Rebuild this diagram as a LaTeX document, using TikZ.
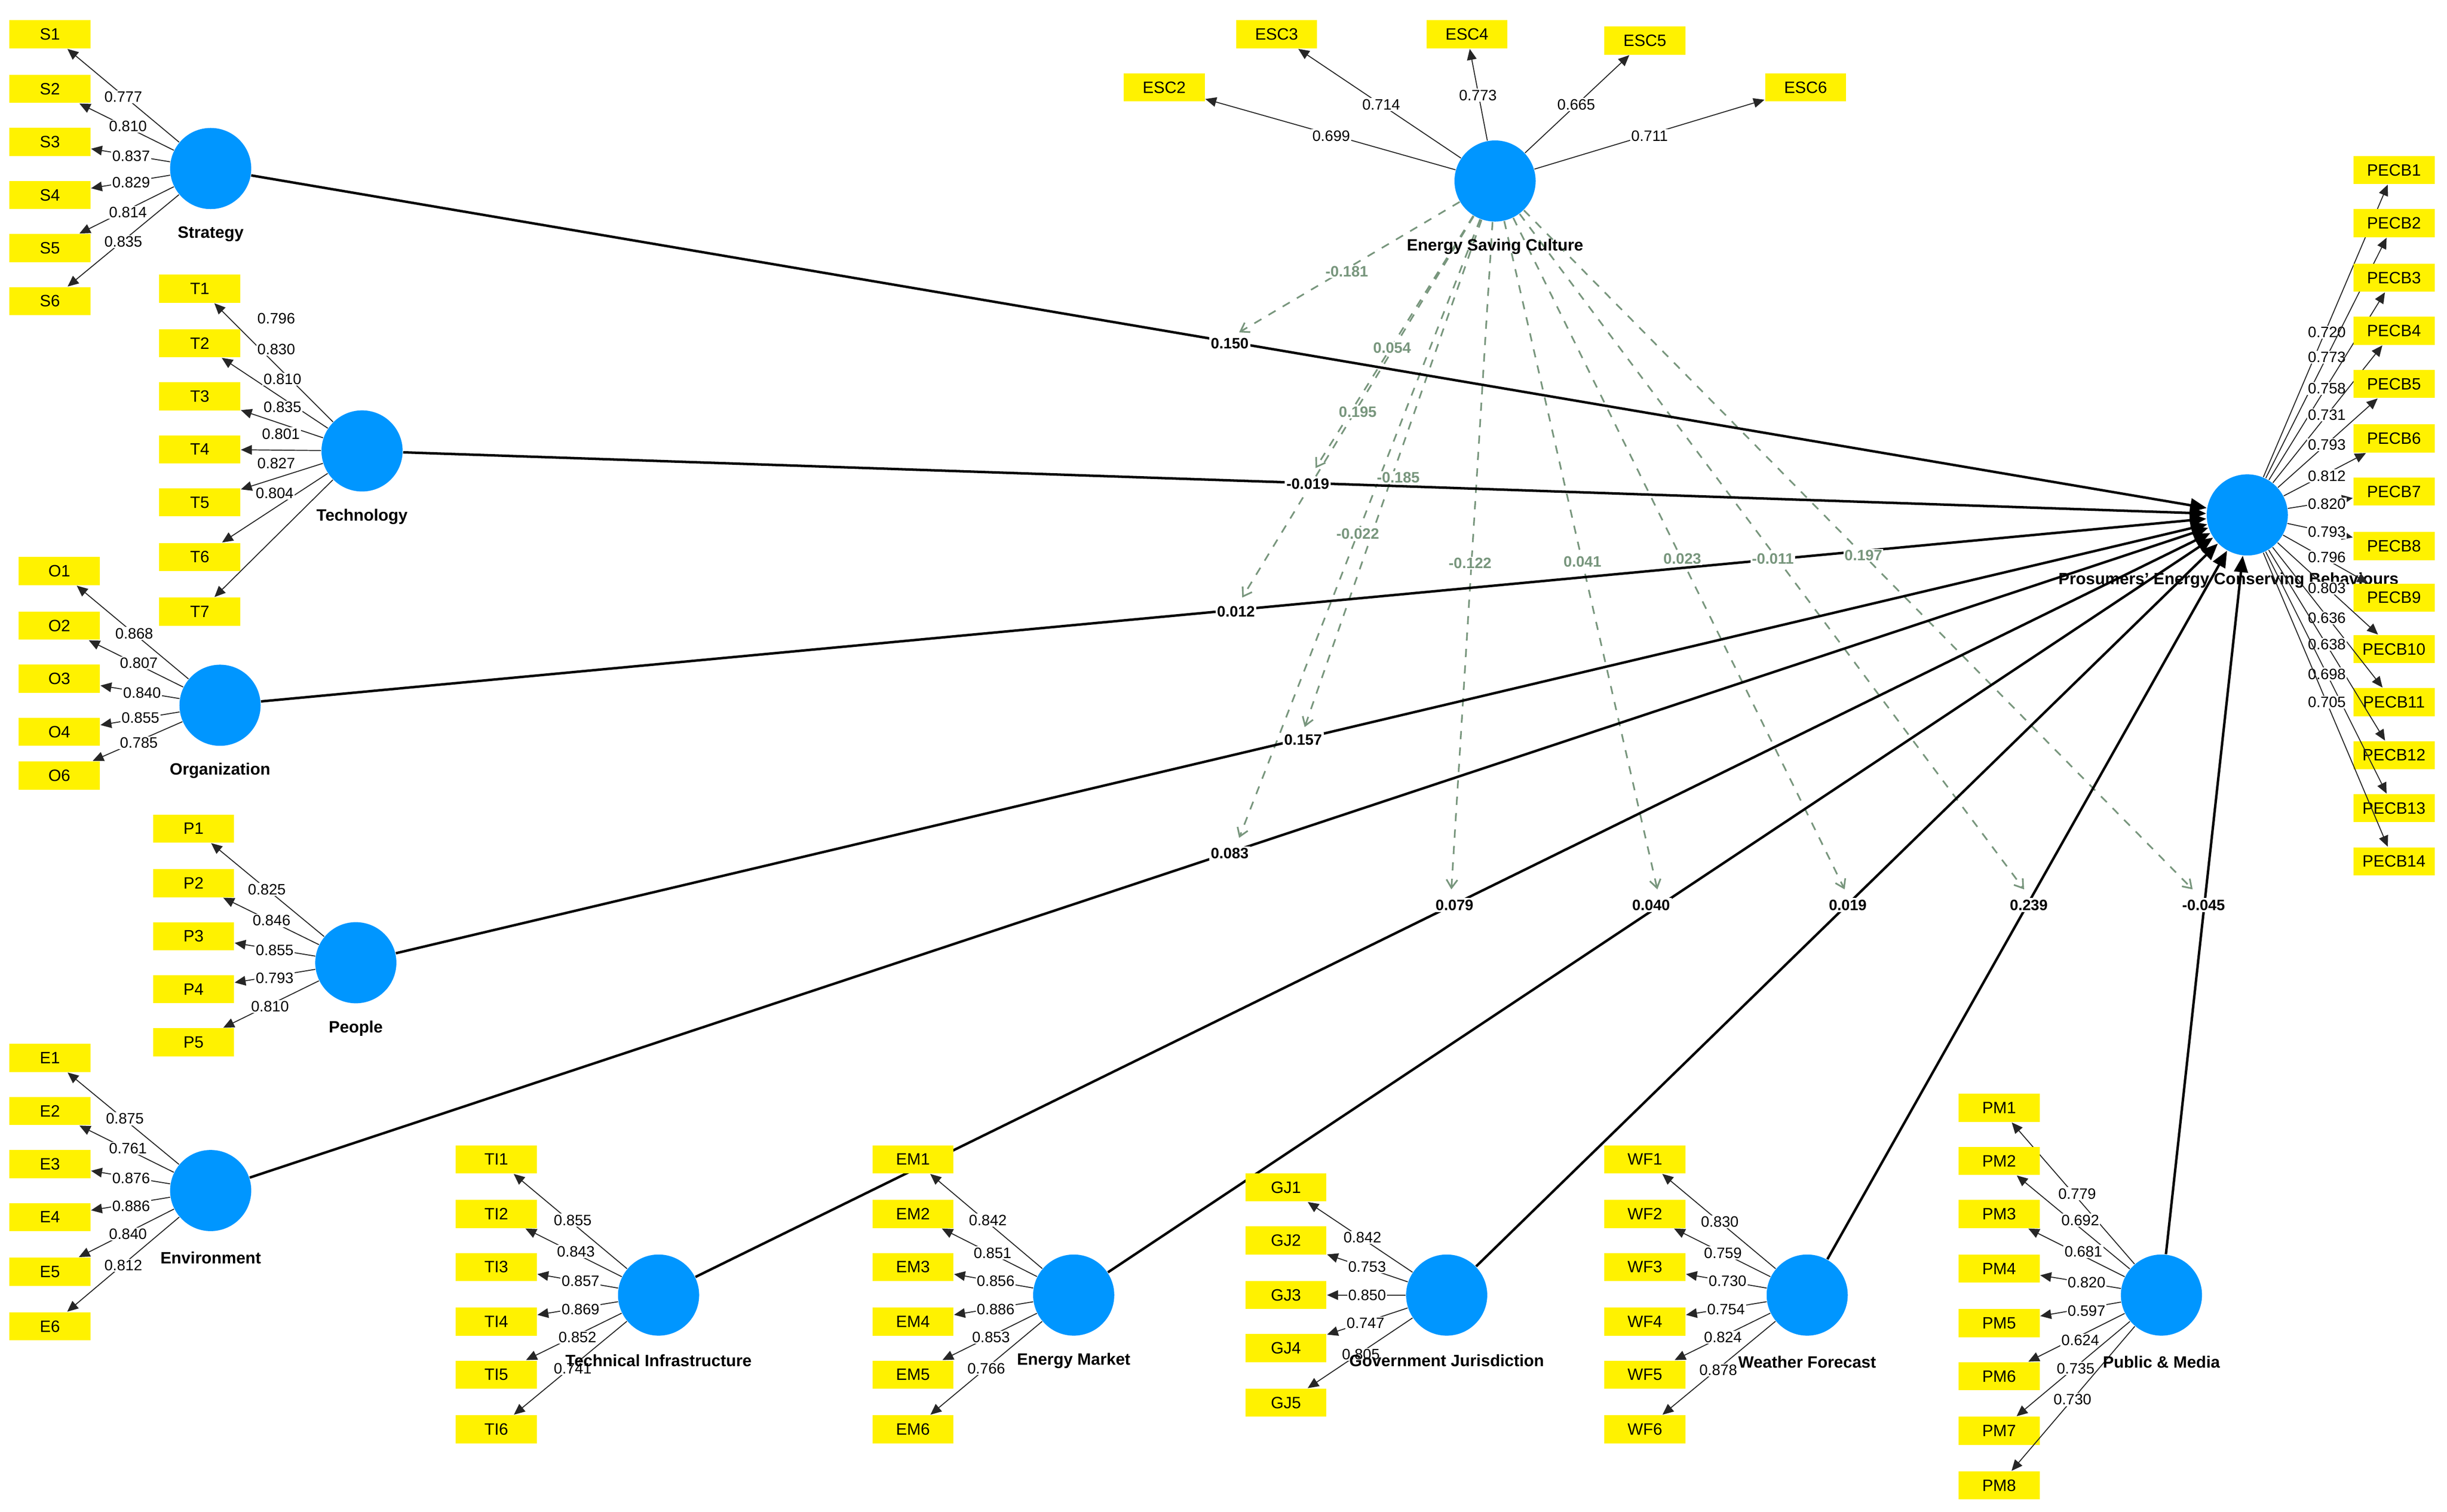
\documentclass[tikz,border=0pt]{standalone}
\usepackage{fontspec}
\setmainfont{Liberation Sans}
\usetikzlibrary{arrows.meta}
\definecolor{cBlue}{RGB}{0,150,255}
\definecolor{cGreen}{RGB}{120,150,125}
\begin{document}
\begin{tikzpicture}[x=0.02cm,y=-0.02cm,
 lv/.style={circle,fill=cBlue,minimum size=1.04cm,inner sep=0},
 ind/.style={rectangle,fill=yellow,minimum width=1.04cm,minimum height=0.36cm,inner sep=0,font=\fontsize{6}{7}\selectfont},
 ld/.style={draw=black!85,line width=0.35pt,-{Triangle[length=4pt,width=3.5pt]}},
 lw/.style={fill=white,inner sep=0.4pt,font=\fontsize{5.5}{6}\selectfont},
 pth/.style={line width=0.9pt,-{Triangle[length=6pt,width=5pt]}},
 pw/.style={fill=white,inner sep=0.6pt,font=\bfseries\fontsize{5.5}{6}\selectfont},
 md/.style={draw=cGreen,dashed,line width=0.6pt,-{Straight Barb[length=3pt,width=4pt]}},
 mw/.style={fill=white,inner sep=0.4pt,text=cGreen,font=\bfseries\fontsize{5.5}{6}\selectfont},
 cl/.style={font=\bfseries\fontsize{6}{7}\selectfont}]
\useasboundingbox (0,0) rectangle (1568,969);
\fill[white] (0,0) rectangle (1568,969);
% constructs
\node[lv] (STR) at (135,108) {};
\node[lv] (TEC) at (232,289) {};
\node[lv] (ORG) at (141,452) {};
\node[lv] (PEO) at (228,617) {};
\node[lv] (ENV) at (135,763) {};
\node[lv] (TI) at (422,830) {};
\node[lv] (EM) at (688,830) {};
\node[lv] (GJ) at (927,830) {};
\node[lv] (WF) at (1158,830) {};
\node[lv] (PM) at (1385,830) {};
\node[lv] (ESC) at (958,116) {};
\node[lv] (PECB) at (1440,330) {};
\node[cl] (lPECB) at (1428,372) {Prosumers' Energy Conserving Behaviours};
% moderating dashed paths
\foreach \i/\x/\y in {1/794/213,2/843/300,3/796/383,4/836/466,5/794/537,6/930/570,7/1062/570,8/1182/570,9/1297/570,10/1405/570}{
 \coordinate (m\i) at (\x,\y);
 \draw[md] (ESC) -- (m\i);
}
% structural paths
\foreach \s in {STR,TEC,ORG,PEO,ENV,TI,EM,GJ,WF,PM}{\draw[pth] (\s) -- (PECB);}
\node[pw] (p1) at (788,220) {0.150};
\node[pw] (p2) at (838,310) {-0.019};
\node[pw] (p3) at (792,392) {0.012};
\node[pw] (p4) at (835,474) {0.157};
\node[pw] (p5) at (788,547) {0.083};
\node[pw] (p6) at (932,580) {0.079};
\node[pw] (p7) at (1058,580) {0.040};
\node[pw] (p8) at (1184,580) {0.019};
\node[pw] (p9) at (1300,580) {0.239};
\node[pw] (p10) at (1412,580) {-0.045};
\foreach \v/\x/\y in {-0.181/863/174,0.054/892/223,0.195/870/264,-0.185/896/306,-0.022/870/342,-0.122/942/361,0.041/1014/360,0.023/1078/358,-0.011/1136/358,0.197/1194/356}{
 \node[mw] at (\x,\y) {\v};
}
% measurement models
\foreach \n/\y/\v/\lx/\ly in {S1/22/0.777/79/62,S2/57/0.810/82/81,S3/91/0.837/84/100,S4/125/0.829/84/117,S5/159/0.814/82/136,S6/193/0.835/79/155}{
 \node[ind] (\n) at (32,\y) {\n}; \draw[ld] (STR) -- (\n); \node[lw] at (\lx,\ly) {\v};}
\foreach \n/\y/\v/\lx/\ly in {T1/185/0.796/177/204,T2/220/0.830/177/224,T3/254/0.810/181/243,T4/288/0.835/181/261,T5/322/0.801/180/278,T6/357/0.827/177/297,T7/392/0.804/176/316}{
 \node[ind] (\n) at (128,\y) {\n}; \draw[ld] (TEC) -- (\n); \node[lw] at (\lx,\ly) {\v};}
\foreach \n/\y/\v/\lx/\ly in {O1/366/0.868/86/406,O2/401/0.807/89/425,O3/435/0.840/91/444,O4/469/0.855/90/460,O6/497/0.785/89/476}{
 \node[ind] (\n) at (38,\y) {\n}; \draw[ld] (ORG) -- (\n); \node[lw] at (\lx,\ly) {\v};}
\foreach \n/\y/\v/\lx/\ly in {P1/531/0.825/171/570,P2/566/0.846/174/590,P3/600/0.855/176/609,P4/634/0.793/176/627,P5/668/0.810/173/645}{
 \node[ind] (\n) at (124,\y) {\n}; \draw[ld] (PEO) -- (\n); \node[lw] at (\lx,\ly) {\v};}
\foreach \n/\y/\v/\lx/\ly in {E1/678/0.875/80/717,E2/712/0.761/82/736,E3/746/0.876/84/755,E4/780/0.886/84/773,E5/815/0.840/82/791,E6/850/0.812/79/811}{
 \node[ind] (\n) at (32,\y) {\n}; \draw[ld] (ENV) -- (\n); \node[lw] at (\lx,\ly) {\v};}
\foreach \n/\y/\v/\lx/\ly in {TI1/743/0.855/367/782,TI2/778/0.843/369/802,TI3/812/0.857/372/821,TI4/847/0.869/372/839,TI5/881/0.852/370/857,TI6/916/0.741/367/877}{
 \node[ind] (\n) at (318,\y) {\n}; \draw[ld] (TI) -- (\n); \node[lw] at (\lx,\ly) {\v};}
\foreach \n/\y/\v/\lx/\ly in {EM1/743/0.842/633/782,EM2/778/0.851/636/803,EM3/812/0.856/638/821,EM4/847/0.886/638/839,EM5/881/0.853/635/857,EM6/916/0.766/632/877}{
 \node[ind] (\n) at (585,\y) {\n}; \draw[ld] (EM) -- (\n); \node[lw] at (\lx,\ly) {\v};}
\foreach \n/\y/\v/\lx/\ly in {GJ1/761/0.842/873/793,GJ2/795/0.753/876/812,GJ3/830/0.850/876/830,GJ4/864/0.747/875/848,GJ5/899/0.805/872/868}{
 \node[ind] (\n) at (824,\y) {\n}; \draw[ld] (GJ) -- (\n); \node[lw] at (\lx,\ly) {\v};}
\foreach \n/\y/\v/\lx/\ly in {WF1/743/0.830/1102/783,WF2/778/0.759/1104/803,WF3/812/0.730/1107/821,WF4/847/0.754/1106/839,WF5/881/0.824/1104/857,WF6/916/0.878/1101/878}{
 \node[ind] (\n) at (1054,\y) {\n}; \draw[ld] (WF) -- (\n); \node[lw] at (\lx,\ly) {\v};}
\foreach \n/\y/\v/\lx/\ly in {PM1/710/0.779/1331/765,PM2/744/0.692/1333/782,PM3/778/0.681/1335/802,PM4/813/0.820/1337/822,PM5/848/0.597/1337/840,PM6/882/0.624/1333/859,PM7/917/0.735/1330/877,PM8/952/0.730/1328/897}{
 \node[ind] (\n) at (1281,\y) {\n}; \draw[ld] (PM) -- (\n); \node[lw] at (\lx,\ly) {\v};}
\foreach \n/\x/\y/\v/\lx/\ly in {ESC2/746/56/0.699/853/87,ESC3/818/22/0.714/885/67,ESC4/940/22/0.773/947/61,ESC5/1054/26/0.665/1010/67,ESC6/1157/56/0.711/1057/87}{
 \node[ind] (\n) at (\x,\y) {\n}; \draw[ld] (ESC) -- (\n); \node[lw] at (\lx,\ly) {\v};}
\foreach \n/\y/\v/\ly in {PECB1/109/0.720/213,PECB2/143/0.773/229,PECB3/178/0.758/249,PECB4/212/0.731/266,PECB5/246/0.793/285,PECB6/281/0.812/305,PECB7/315/0.820/323,PECB8/350/0.793/341,PECB9/383/0.796/357,PECB10/416/0.803/377,PECB11/450/0.636/396,PECB12/484/0.638/413,PECB13/518/0.698/432,PECB14/552/0.705/450}{
 \node[ind] (\n) at (1534,\y) {\n}; \draw[ld] (PECB) -- (\n); \node[lw] at (1491,\ly) {\v};}
% construct labels
\node[cl] (lSTR) at (135,150) {Strategy};
\node[cl] (lTEC) at (232,331) {Technology};
\node[cl] (lORG) at (141,494) {Organization};
\node[cl] (lPEO) at (228,659) {People};
\node[cl] (lENV) at (135,806) {Environment};
\node[cl] (lTI) at (422,872) {Technical Infrastructure};
\node[cl] (lEM) at (688,872) {Energy Market};
\node[cl] (lGJ) at (927,872) {Government Jurisdiction};
\node[cl] (lWF) at (1158,873) {Weather Forecast};
\node[cl] (lPM) at (1385,873) {Public \& Media};
\node[cl] (lESC) at (958,158) {Energy Saving Culture};
\end{tikzpicture}
\end{document}
